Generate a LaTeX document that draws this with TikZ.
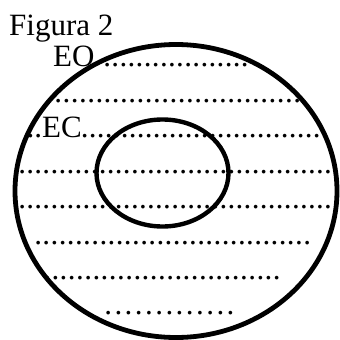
\documentclass[tikz,border=0pt]{standalone}
\usepackage{fontspec}
\setmainfont{Liberation Serif}
\newcommand\dotline[2]{\foreach \k in {1,...,#1}{\makebox[#2]{.}}}
\tikzset{
  lbl/.style={inner sep=0pt, anchor=base west, font=\fontsize{31}{36}\selectfont},
  ring/.style={draw=black, line width=4.8pt},
}
\begin{document}
\begin{tikzpicture}[x=1pt,y=-1pt]
\useasboundingbox (0,0) rectangle (340,340);
\fill[white] (0,0) rectangle (340,340);
\node[lbl] (title) at (9,35) {Figura 2};
\draw[ring] (176,191) ellipse [x radius=161, y radius=146.5];
\draw[ring, line width=4.4pt] (162.5,173) ellipse [x radius=66, y radius=53.5];
\node[lbl] (eo) at (53,66.5) {EO};
\node[lbl] (r1) at (107-4.05,66.5) {\dotline{18}{8.1pt}};
\node[lbl] (r2) at (58-4.12,102) {\dotline{30}{8.24pt}};
\node[lbl] (ec) at (26.5,137.5) {..EC};
\node[lbl] (r3) at (84.5-4,137.5) {\dotline{30}{8pt}};
\node[lbl] (r4) at (22-4.02,173.5) {\dotline{39}{8.05pt}};
\node[lbl] (r5) at (22-4.02,208.5) {\dotline{39}{8.05pt}};
\node[lbl] (r6) at (38-4.07,244.5) {\dotline{34}{8.15pt}};
\node[lbl] (r7) at (47-4.1,279.5) {\dotline{29}{8.2pt}};
\node[lbl] (r8) at (108-5.1,314.5) {\dotline{13}{10.2pt}};
\end{tikzpicture}
\end{document}
